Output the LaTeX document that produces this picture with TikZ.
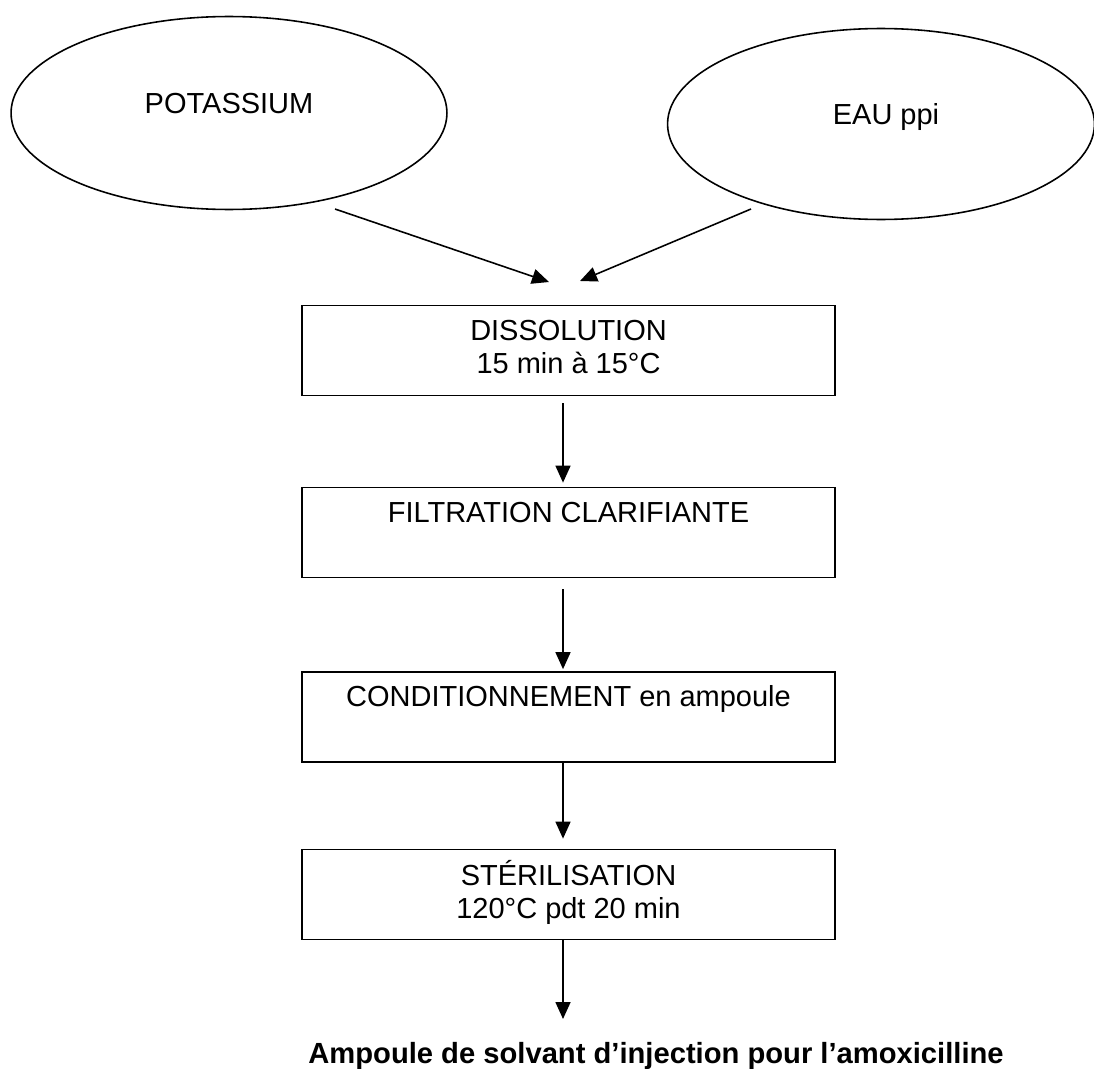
\documentclass[tikz,border=0pt]{standalone}
\usepackage{fontspec}
\setmainfont{Liberation Sans}
\usetikzlibrary{shapes.geometric,arrows.meta}

\begin{document}
\begin{tikzpicture}[
    x=0.02cm, y=-0.02cm,
    font=\fontsize{16.5}{19}\selectfont,
    src/.style={ellipse, draw, line width=0.9pt, inner sep=0pt},
    stepbox/.style={rectangle, draw, line width=1pt, minimum width=10.66cm,
        minimum height=1.8cm, inner sep=0pt, align=center},
    arr/.style={-{Triangle[length=0.34cm, width=0.3cm]}, line width=0.9pt}
]
    \useasboundingbox (0,0) rectangle (1094,1068);

    % ingredients
    \node[src, minimum width=8.72cm, minimum height=3.86cm,
        label={[yshift=0.18cm]center:POTASSIUM}] (pot) at (229,113) {};
    \node[src, minimum width=8.54cm, minimum height=3.82cm,
        label={[yshift=0.14cm, xshift=0.1cm]center:EAU ppi}] (eau) at (881,124) {};

    % process steps
    \node[stepbox] (diss) at (568.5,350.5) {\strut DISSOLUTION\\\strut 15 min à 15°C};
    \node[stepbox] (filt) at (568.5,532.5) {\strut FILTRATION CLARIFIANTE\\\strut};
    \node[stepbox] (cond) at (568.5,717) {\strut CONDITIONNEMENT en ampoule\\\strut};
    \node[stepbox] (ster) at (568.5,894.5) {\strut STÉRILISATION\\\strut 120°C pdt 20 min};

    \node[anchor=base, font=\fontsize{16.6}{19}\selectfont\bfseries] (prod) at (656,1063)
        {Ampoule de solvant d’injection pour l’amoxicilline};

    \coordinate (potout) at (335,209);
    \coordinate (eauout) at (751,209);
    \coordinate (dissL) at (549,282);
    \coordinate (dissR) at (580,281);
    \coordinate (axis) at (563,0);
    \coordinate (fin) at (563,1019);

    \draw[arr] (potout) -- (dissL);
    \draw[arr] (eauout) -- (dissR);
    \draw[arr, shorten <=0.14cm, shorten >=0.08cm] (diss.south -| axis) -- (filt.north -| axis);
    \draw[arr, shorten <=0.22cm, shorten >=0.04cm] (filt.south -| axis) -- (cond.north -| axis);
    \draw[arr, shorten >=0.2cm] (cond.south -| axis) -- (ster.north -| axis);
    \draw[arr] (ster.south -| axis) -- (fin);
\end{tikzpicture}
\end{document}
